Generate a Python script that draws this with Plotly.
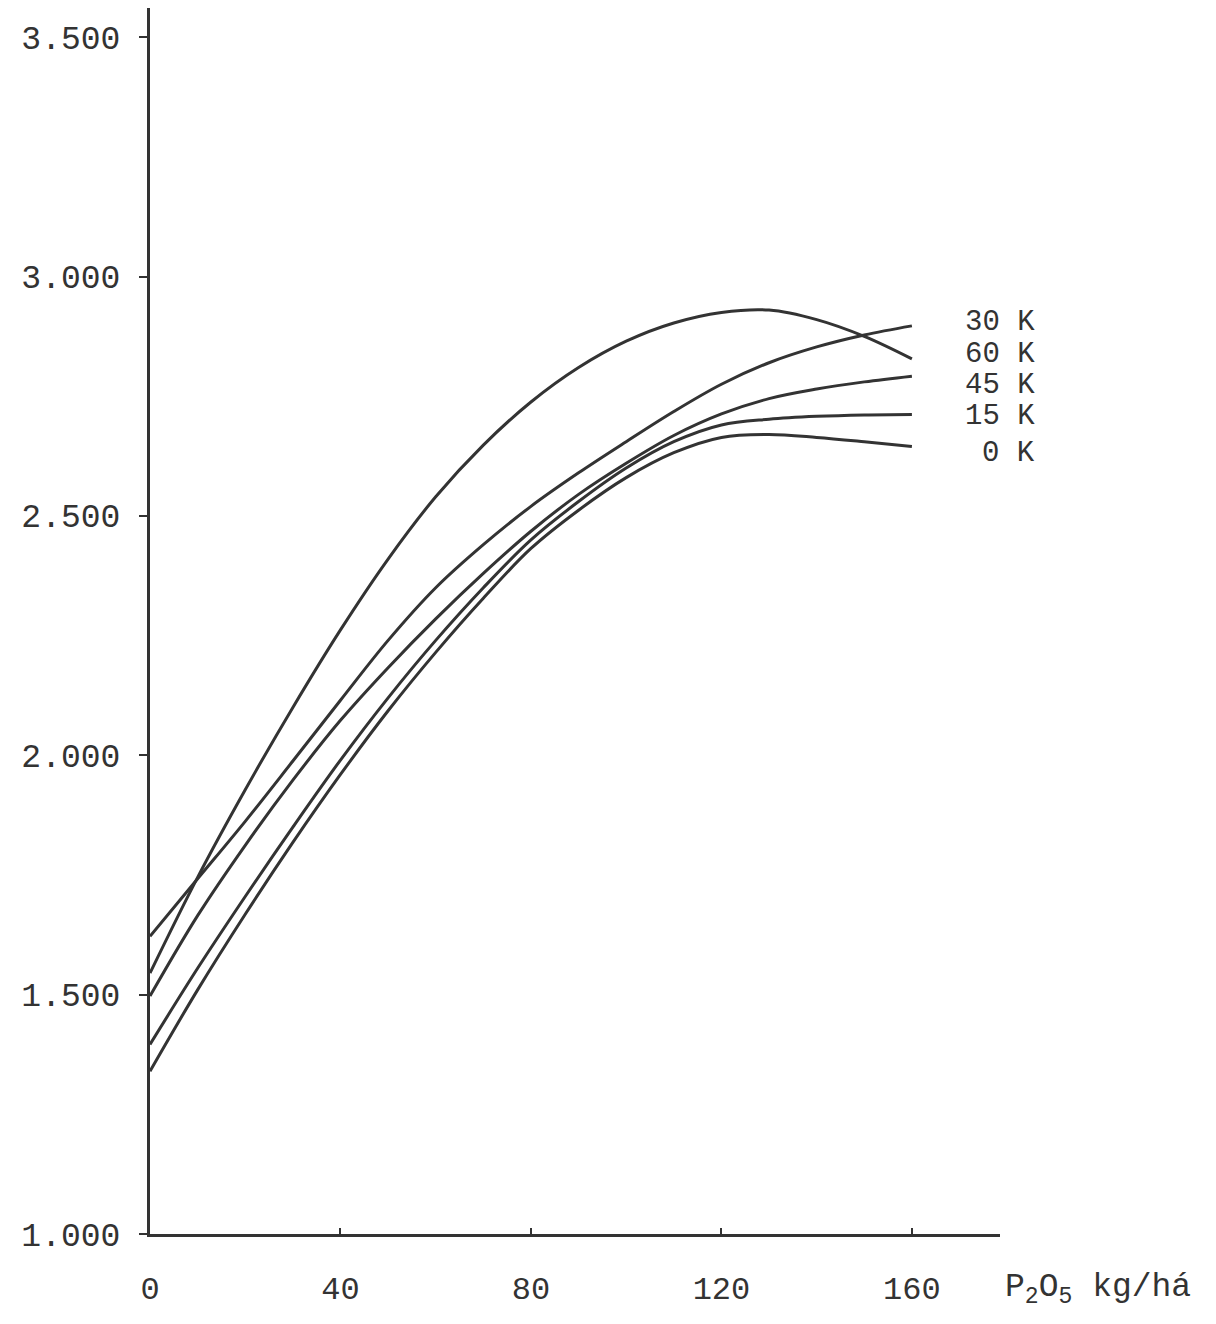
import plotly.graph_objects as go

# P2O5 doses (kg/ha)
p2o5 = [0, 10, 20, 30, 40, 50, 60, 70, 80, 90, 100, 110, 120, 130, 140, 150, 160]

# Yield curves for each K level
k0 = [1340, 1510, 1668, 1818, 1960, 2093, 2215, 2328, 2432, 2512, 2580, 2632, 2664, 2670, 2664, 2655, 2645]
k15 = [1396, 1555, 1705, 1850, 1990, 2120, 2240, 2350, 2450, 2530, 2600, 2655, 2690, 2702, 2708, 2711, 2712]
k30 = [1622, 1742, 1862, 1988, 2115, 2240, 2350, 2440, 2520, 2590, 2655, 2718, 2775, 2820, 2853, 2878, 2897]
k45 = [1497, 1665, 1812, 1948, 2073, 2183, 2285, 2380, 2468, 2545, 2610, 2668, 2713, 2745, 2765, 2780, 2792]
k60 = [1545, 1745, 1928, 2100, 2262, 2410, 2540, 2648, 2738, 2810, 2865, 2903, 2925, 2930, 2910, 2875, 2828]

series = [("0 K", k0), ("15 K", k15), ("30 K", k30), ("45 K", k45), ("60 K", k60)]

# curve labels at the right end (label text, y value)
label_text = ["30 K", "60 K", "45 K", "15 K", "0 K"]
label_y = [2905, 2838, 2773, 2708, 2631]

y_ticks = [1000, 1500, 2000, 2500, 3000, 3500]
y_ticktext = ["1.000", "1.500", "2.000", "2.500", "3.000", "3.500"]
x_ticks = [0, 40, 80, 120, 160]
x_ticktext = ["0", "40", "80", "120", "160"]

FONT = "Liberation Mono"
INK = "#333333"

fig = go.Figure()
for name, vals in series:
    fig.add_trace(go.Scatter(
        x=p2o5, y=vals, mode="lines", name=name,
        line=dict(color=INK, width=3, shape="spline", smoothing=1.0),
        showlegend=False, hoverinfo="x+y+name",
    ))

for txt, yv in zip(label_text, label_y):
    fig.add_annotation(
        x=1.043, xref="paper", y=yv, yref="y", text=txt,
        showarrow=False, xanchor="right", yanchor="middle",
        font=dict(family=FONT, size=29, color=INK),
    )

fig.add_annotation(
    x=1.004, xref="paper", y=-0.045, yref="paper",
    text="P<sub>2</sub>O<sub>5</sub> kg/há",
    showarrow=False, xanchor="left", yanchor="middle",
    font=dict(family=FONT, size=33, color=INK),
)

fig.update_layout(
    width=1208, height=1316, autosize=False,
    margin=dict(l=142, r=216, t=0, b=90),
    paper_bgcolor="white", plot_bgcolor="white",
    font=dict(family=FONT, color=INK),
)
fig.update_xaxes(
    range=[0, 178.5], tickvals=x_ticks, ticktext=x_ticktext,
    showgrid=False, zeroline=False, showline=True, linecolor=INK, linewidth=3,
    ticks="inside", ticklen=6, tickwidth=2, tickcolor=INK,
    tickfont=dict(family=FONT, size=32, color=INK), ticklabelstandoff=24,
)
fig.update_yaxes(
    range=[1000, 3561], tickvals=y_ticks, ticktext=y_ticktext,
    showgrid=False, zeroline=False, showline=True, linecolor=INK, linewidth=3,
    ticks="outside", ticklen=8, tickwidth=2, tickcolor=INK,
    tickfont=dict(family=FONT, size=33, color=INK), ticklabelstandoff=12,
)

fig.write_html("out.html")
